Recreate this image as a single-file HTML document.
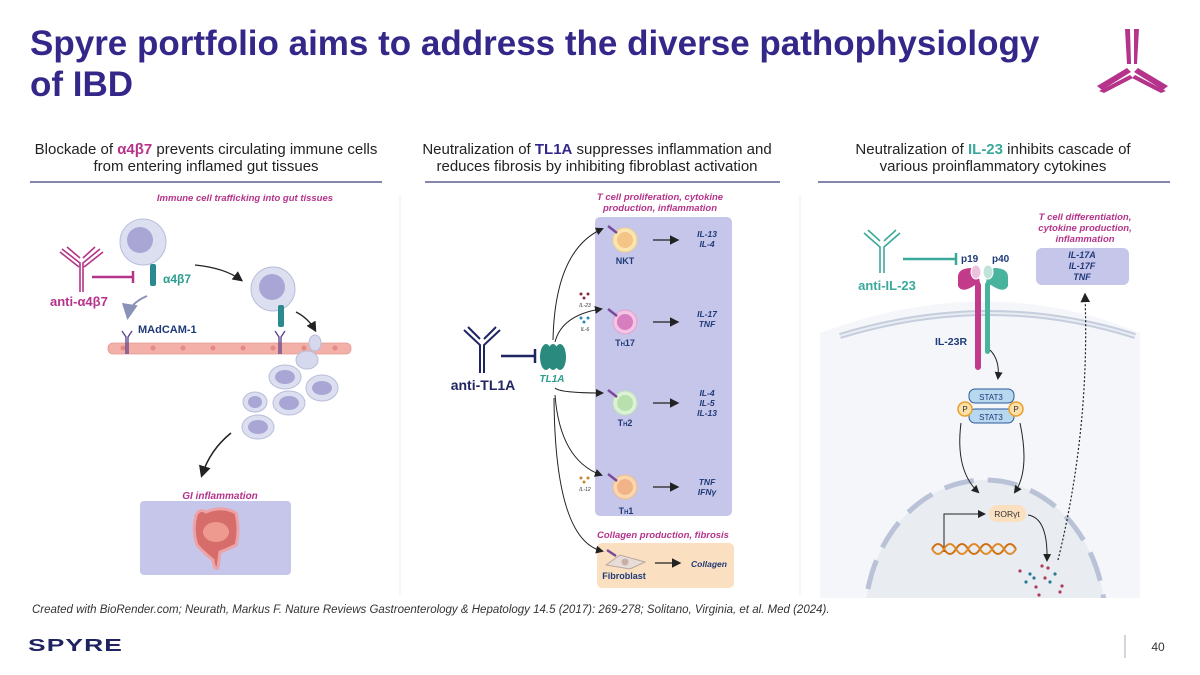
<!DOCTYPE html>
<html><head><meta charset="utf-8"><style>
html,body{margin:0;padding:0;background:#fff;overflow:hidden;width:1200px;height:675px;}
svg{display:block;font-family:"Liberation Sans",sans-serif;}
</style></head><body>
<svg width="1200" height="675" viewBox="0 0 1200 675" xmlns="http://www.w3.org/2000/svg">
<defs>
<marker id="ah" markerWidth="8" markerHeight="8" refX="6" refY="4" orient="auto"><path d="M0,0 L8,4 L0,8 z" fill="#222"/></marker>
<marker id="ahg" markerWidth="8" markerHeight="8" refX="6" refY="4" orient="auto"><path d="M0,0 L8,4 L0,8 z" fill="#8a92b8"/></marker>
<clipPath id="rc"><rect x="818" y="190" width="352" height="408"/></clipPath>
</defs>
<!-- title -->
<text x="30" y="55" font-size="35" font-weight="bold" fill="#33288a">Spyre portfolio aims to address the diverse pathophysiology</text>
<text x="30" y="96" font-size="35" font-weight="bold" fill="#33288a">of IBD</text>
<!-- logo -->
<g fill="#b5338a">
<polygon points="1125,29 1130,29 1131,64 1127,64"/><polygon points="1134,29 1139,29 1137,64 1134,64"/>
<polygon points="1127,68 1131,72 1102,90 1097,86"/><polygon points="1130,75 1133,78 1104,93 1099,91"/>
<polygon points="1138,68 1134,72 1163,90 1168,86"/><polygon points="1135,75 1132,78 1161,93 1166,91"/>
</g>
<!-- headers -->
<g font-size="15" fill="#222" text-anchor="middle">
<text x="206" y="154">Blockade of <tspan fill="#b5338a" font-weight="bold">α4β7</tspan> prevents circulating immune cells</text>
<text x="206" y="171">from entering inflamed gut tissues</text>
<text x="597" y="154">Neutralization of <tspan fill="#33288a" font-weight="bold">TL1A</tspan> suppresses inflammation and</text>
<text x="597" y="171">reduces fibrosis by inhibiting fibroblast activation</text>
<text x="993" y="154">Neutralization of <tspan fill="#3aa99a" font-weight="bold">IL-23</tspan> inhibits cascade of</text>
<text x="993" y="171">various proinflammatory cytokines</text>
</g>
<g stroke="#3b3f7a" stroke-width="1.3">
<line x1="30" y1="182" x2="382" y2="182"/><line x1="425" y1="182" x2="780" y2="182"/><line x1="818" y1="182" x2="1170" y2="182"/>
</g>
<line x1="400" y1="195" x2="400" y2="595" stroke="#eee"/><line x1="800" y1="195" x2="800" y2="595" stroke="#eee"/>

<!-- LEFT PANEL -->
<text x="245" y="201" font-size="9.5" font-weight="bold" font-style="italic" fill="#b5338a" text-anchor="middle">Immune cell trafficking into gut tissues</text>
<circle cx="143" cy="242" r="23" fill="#dcdff0" stroke="#b8bddc"/><circle cx="140" cy="240" r="13" fill="#a9a6d6"/>
<g stroke="#b5338a" stroke-width="1.6" fill="none">
<path d="M80,292 V263 L62,249 M83,292 V263 L100,249 M67,247 L80,258 M95,247 L83,258 M60,252 L79,267 M103,252 L84,267"/>
</g>
<line x1="92" y1="277" x2="133" y2="277" stroke="#b5338a" stroke-width="2.5"/><line x1="133" y1="271" x2="133" y2="283" stroke="#b5338a" stroke-width="2.5"/>
<rect x="150" y="264" width="6" height="22" rx="2" fill="#2a8a90"/>
<text x="163" y="283" font-size="12" font-weight="bold" fill="#2a9d8f">α4β7</text>
<text x="50" y="306" font-size="13" font-weight="bold" fill="#b5338a">anti-α4β7</text>
<path d="M147,296 Q130,303 128,316" stroke="#8a92b8" stroke-width="2" fill="none" marker-end="url(#ahg)"/>
<text x="138" y="333" font-size="11" font-weight="bold" fill="#1f3a78">MAdCAM-1</text>
<path d="M195,265 Q225,268 241,280" stroke="#222" stroke-width="1.3" fill="none" marker-end="url(#ah)"/>
<circle cx="273" cy="289" r="22" fill="#dcdff0" stroke="#b8bddc"/><circle cx="272" cy="287" r="13" fill="#a9a6d6"/>
<rect x="278" y="305" width="6" height="22" rx="2" fill="#2a8a90"/>
<path d="M296,312 Q308,318 315,330" stroke="#222" stroke-width="1.3" fill="none" marker-end="url(#ah)"/>
<rect x="108" y="343" width="243" height="11" rx="5" fill="#f2b0a8" stroke="#e39a92" stroke-width="0.8"/>
<g fill="#e38a84"><circle cx="123" cy="348" r="2.5"/><circle cx="153" cy="348" r="2.5"/><circle cx="183" cy="348" r="2.5"/><circle cx="213" cy="348" r="2.5"/><circle cx="243" cy="348" r="2.5"/><circle cx="273" cy="348" r="2.5"/><circle cx="304" cy="348" r="2.5"/><circle cx="335" cy="348" r="2.5"/></g>
<g stroke="#5a3d88" stroke-width="1.3" fill="none"><path d="M126,354 V337 L122,331 M128,354 V337 L132,331"/><path d="M279,354 V337 L275,331 M281,354 V337 L285,331"/></g>
<ellipse cx="315" cy="343" rx="6" ry="8" fill="#d6d9ee" stroke="#b8bddc"/>
<ellipse cx="307" cy="360" rx="11" ry="9" fill="#d6d9ee" stroke="#b8bddc"/>
<g fill="#dcdff0" stroke="#b8bddc">
<ellipse cx="285" cy="377" rx="16" ry="12"/><ellipse cx="322" cy="388" rx="16" ry="13"/>
<ellipse cx="255" cy="402" rx="12" ry="10"/><ellipse cx="289" cy="403" rx="16" ry="12"/><ellipse cx="258" cy="427" rx="16" ry="12"/>
</g>
<g fill="#a9a6d6"><ellipse cx="285" cy="377" rx="10" ry="7"/><ellipse cx="322" cy="388" rx="10" ry="7"/><ellipse cx="255" cy="402" rx="7" ry="6"/><ellipse cx="289" cy="403" rx="10" ry="7"/><ellipse cx="258" cy="427" rx="10" ry="7"/></g>
<path d="M231,433 Q210,450 202,475" stroke="#222" stroke-width="1.5" fill="none" marker-end="url(#ah)"/>
<text x="220" y="499" font-size="10" font-weight="bold" font-style="italic" fill="#b5338a" text-anchor="middle">GI inflammation</text>
<rect x="140" y="501" width="151" height="74" rx="4" fill="#c6c6ea"/>
<path d="M196,515 Q200,508 206,512 Q222,505 236,513 Q240,530 236,545 Q226,550 220,552 L218,568 Q214,570 213,560 Q203,552 197,545 Q192,530 196,515 Z" fill="#d9645e" stroke="#f0a0a0" stroke-width="3" opacity="0.9"/>
<ellipse cx="216" cy="532" rx="13" ry="10" fill="#ee9a8e"/>

<!-- MIDDLE PANEL -->
<text x="660" y="200" font-size="9.5" font-weight="bold" font-style="italic" fill="#b5338a" text-anchor="middle">T cell proliferation, cytokine</text>
<text x="660" y="211" font-size="9.5" font-weight="bold" font-style="italic" fill="#b5338a" text-anchor="middle">production, inflammation</text>
<rect x="595" y="217" width="137" height="299" rx="5" fill="#c6c6ea"/>
<rect x="597" y="543" width="137" height="45" rx="5" fill="#fae0c0"/>
<text x="663" y="538" font-size="9.5" font-weight="bold" font-style="italic" fill="#b5338a" text-anchor="middle">Collagen production, fibrosis</text>
<g stroke="#1f2560" stroke-width="2" fill="none">
<path d="M480,373 V345 L464,330 M484,373 V345 L500,330 M468,327 L480,339 M496,327 L484,339"/>
</g>
<line x1="501" y1="356" x2="534" y2="356" stroke="#1f2560" stroke-width="2.5"/><line x1="535" y1="349" x2="535" y2="363" stroke="#1f2560" stroke-width="2.5"/>
<text x="483" y="390" font-size="14" font-weight="bold" fill="#1f2560" text-anchor="middle">anti-TL1A</text>
<g fill="#2a8a7e"><ellipse cx="546" cy="357" rx="6" ry="13"/><ellipse cx="553" cy="357" rx="6" ry="13"/><ellipse cx="560" cy="357" rx="6" ry="13"/></g>
<text x="552" y="382" font-size="10" font-weight="bold" font-style="italic" fill="#2a9d8f" text-anchor="middle">TL1A</text>
<g stroke="#222" stroke-width="1" fill="none">
<path d="M553,340 Q555,250 602,229" marker-end="url(#ah)"/>
<path d="M555,342 Q562,315 601,309" marker-end="url(#ah)"/>
<path d="M555,388 Q560,393 602,393" marker-end="url(#ah)"/>
<path d="M555,395 Q560,460 601,475" marker-end="url(#ah)"/>
<path d="M554,398 Q555,540 602,551" marker-end="url(#ah)"/>
</g>
<g stroke="#222" stroke-width="1.2">
<line x1="653" y1="240" x2="677" y2="240" marker-end="url(#ah)"/><line x1="653" y1="322" x2="677" y2="322" marker-end="url(#ah)"/>
<line x1="653" y1="403" x2="677" y2="403" marker-end="url(#ah)"/><line x1="653" y1="487" x2="677" y2="487" marker-end="url(#ah)"/>
<line x1="655" y1="563" x2="679" y2="563" marker-end="url(#ah)"/>
</g>
<circle cx="625" cy="240" r="12" fill="#fbe6b0" stroke="#f0d28a"/><circle cx="625" cy="240" r="8" fill="#f5c487"/>
<circle cx="625" cy="322" r="12" fill="#f4c4e4" stroke="#e2a0d2"/><circle cx="625" cy="322" r="8" fill="#d77ec0"/>
<circle cx="625" cy="403" r="12" fill="#dcf2d6" stroke="#bfe0b6"/><circle cx="625" cy="403" r="8" fill="#b8e0ad"/>
<circle cx="625" cy="487" r="12" fill="#fbd7b0" stroke="#f0bc8a"/><circle cx="625" cy="487" r="8" fill="#f2b486"/>
<g stroke="#7a4a9a" stroke-width="2.5"><line x1="608" y1="226" x2="617" y2="233"/><line x1="608" y1="309" x2="617" y2="316"/><line x1="608" y1="390" x2="617" y2="397"/><line x1="608" y1="474" x2="617" y2="481"/><line x1="607" y1="550" x2="616" y2="556"/></g>
<path d="M606,565 L620,555 L645,562 L630,569 Z" fill="#e8dcd6" stroke="#b8a8a0"/><circle cx="625" cy="562" r="3.5" fill="#c8b0a8"/>
<g font-size="9" font-weight="bold" text-anchor="middle" fill="#1f3a78"><text x="625" y="264">NKT</text><text x="625" y="346">T<tspan font-size="6">H</tspan>17</text><text x="625" y="426">T<tspan font-size="6">H</tspan>2</text><text x="626" y="514">T<tspan font-size="6">H</tspan>1</text><text x="624" y="579">Fibroblast</text></g>
<g font-size="8.5" font-weight="bold" font-style="italic" fill="#1f3a78" text-anchor="middle">
<text x="707" y="237">IL-13</text><text x="707" y="247">IL-4</text>
<text x="707" y="317">IL-17</text><text x="707" y="327">TNF</text>
<text x="707" y="396">IL-4</text><text x="707" y="406">IL-5</text><text x="707" y="416">IL-13</text>
<text x="707" y="485">TNF</text><text x="707" y="495">IFNγ</text>
<text x="709" y="567">Collagen</text>
</g>
<g font-size="5" font-style="italic" fill="#333" text-anchor="middle"><text x="585" y="307">IL-23</text><text x="585" y="331">IL-6</text><text x="585" y="491">IL-12</text></g>
<g fill="#8a2a3a"><circle cx="581" cy="294" r="1.5"/><circle cx="588" cy="294" r="1.5"/><circle cx="584" cy="298" r="1.5"/></g>
<g fill="#2a8ab0"><circle cx="581" cy="318" r="1.5"/><circle cx="588" cy="318" r="1.5"/><circle cx="584" cy="322" r="1.5"/></g>
<g fill="#c08a30"><circle cx="581" cy="478" r="1.5"/><circle cx="588" cy="478" r="1.5"/><circle cx="584" cy="482" r="1.5"/></g>

<!-- RIGHT PANEL -->
<g clip-path="url(#rc)">
<path d="M820,333 Q990,270 1140,333 L1140,600 L820,600 Z" fill="#f4f6fa"/>
<path d="M840,336 Q990,290 1135,336" stroke="#c6cedd" stroke-width="6" fill="none"/>
<path d="M840,336 Q990,290 1135,336" stroke="#e8ecf3" stroke-width="2" fill="none"/>
<ellipse cx="985" cy="620" rx="120" ry="140" fill="#e9edf2"/>
<ellipse cx="985" cy="620" rx="120" ry="140" fill="none" stroke="#b9c2d6" stroke-width="5" stroke-dasharray="30 14"/>
</g>
<text x="1085" y="220" font-size="9.5" font-weight="bold" font-style="italic" fill="#b5338a" text-anchor="middle">T cell differentiation,</text>
<text x="1085" y="231" font-size="9.5" font-weight="bold" font-style="italic" fill="#b5338a" text-anchor="middle">cytokine production,</text>
<text x="1085" y="242" font-size="9.5" font-weight="bold" font-style="italic" fill="#b5338a" text-anchor="middle">inflammation</text>
<rect x="1036" y="248" width="93" height="37" rx="6" fill="#c6c6ea"/>
<g font-size="9" font-weight="bold" font-style="italic" fill="#1f3a78" text-anchor="middle"><text x="1082" y="258">IL-17A</text><text x="1082" y="269">IL-17F</text><text x="1082" y="280">TNF</text></g>
<g stroke="#3aa99a" stroke-width="1.6" fill="none">
<path d="M880,273 V247 L864,233 M884,273 V247 L900,233 M868,230 L880,241 M896,230 L884,241"/>
</g>
<line x1="903" y1="259" x2="955" y2="259" stroke="#3aa99a" stroke-width="2.5"/><line x1="956" y1="253" x2="956" y2="265" stroke="#3aa99a" stroke-width="2.5"/>
<text x="887" y="290" font-size="13" font-weight="bold" fill="#3aa99a" text-anchor="middle">anti-IL-23</text>
<text x="961" y="262" font-size="10" font-weight="bold" fill="#1f3a78">p19</text><text x="992" y="262" font-size="10" font-weight="bold" fill="#1f3a78">p40</text>
<path d="M958,277 Q958,268 972,268 Q980,274 980,285 L975,285 Q962,294 958,286 Z" fill="#c23a8a"/>
<path d="M1008,277 Q1008,268 994,268 Q986,274 986,285 L991,285 Q1004,294 1008,286 Z" fill="#4ab39e"/>
<rect x="975" y="282" width="6" height="88" rx="3" fill="#c23a8a"/><rect x="985" y="282" width="5" height="72" rx="2.5" fill="#4ab39e"/>
<ellipse cx="976" cy="272" rx="5" ry="7" fill="#ecc2de" stroke="#fff"/><ellipse cx="988" cy="272" rx="5" ry="7" fill="#bfe3d8" stroke="#fff"/>
<text x="951" y="345" font-size="10.5" font-weight="bold" fill="#1f3a78" text-anchor="middle">IL-23R</text>
<path d="M990,350 Q1000,360 998,378" stroke="#222" stroke-width="1" fill="none" marker-end="url(#ah)"/>
<rect x="969" y="389" width="45" height="14" rx="6" fill="#b8d8f0" stroke="#2a5a98"/>
<rect x="969" y="409" width="45" height="14" rx="6" fill="#b8d8f0" stroke="#2a5a98"/>
<text x="991" y="400" font-size="8" fill="#1f3a78" text-anchor="middle">STAT3</text><text x="991" y="420" font-size="8" fill="#1f3a78" text-anchor="middle">STAT3</text>
<circle cx="965" cy="409" r="7" fill="#fbe0a8" stroke="#e8a030" stroke-width="1.5"/><circle cx="1016" cy="409" r="7" fill="#fbe0a8" stroke="#e8a030" stroke-width="1.5"/>
<text x="965" y="412" font-size="8" fill="#333" text-anchor="middle">P</text><text x="1016" y="412" font-size="8" fill="#333" text-anchor="middle">P</text>
<g stroke="#222" stroke-width="1" fill="none">
<path d="M961,423 Q955,470 978,492" marker-end="url(#ah)"/>
<path d="M1020,423 Q1030,470 1015,492" marker-end="url(#ah)"/>
<path d="M944,552 V514 L984,514" marker-end="url(#ah)"/>
<path d="M1028,515 Q1048,518 1047,560" marker-end="url(#ah)"/>
</g>
<path d="M1058,560 Q1090,430 1085,295" stroke="#222" stroke-width="1.2" stroke-dasharray="2 2" fill="none" marker-end="url(#ah)"/>
<rect x="989" y="505" width="37" height="17" rx="8" fill="#fbe0c0"/>
<text x="1007" y="517" font-size="8.5" fill="#333" text-anchor="middle">RORγt</text>
<path d="M932,549 q6,-10 12,0 t12,0 t12,0 t12,0 t12,0 t12,0 t12,0" stroke="#d07010" stroke-width="2" fill="none"/>
<path d="M932,549 q6,10 12,0 t12,0 t12,0 t12,0 t12,0 t12,0 t12,0" stroke="#e08a2a" stroke-width="2" fill="none"/>
<g fill="#b03a5a"><circle cx="1020" cy="571" r="1.6"/><circle cx="1042" cy="566" r="1.6"/><circle cx="1048" cy="568" r="1.6"/><circle cx="1045" cy="578" r="1.6"/><circle cx="1036" cy="587" r="1.6"/><circle cx="1062" cy="586" r="1.6"/><circle cx="1039" cy="595" r="1.6"/><circle cx="1060" cy="592" r="1.6"/></g>
<g fill="#2a7a98"><circle cx="1030" cy="574" r="1.6"/><circle cx="1034" cy="578" r="1.6"/><circle cx="1026" cy="582" r="1.6"/><circle cx="1055" cy="574" r="1.6"/><circle cx="1050" cy="582" r="1.6"/></g>

<!-- footer -->
<text x="32" y="613" font-size="11.5" font-style="italic" fill="#333">Created with BioRender.com; Neurath, Markus F. Nature Reviews Gastroenterology &amp; Hepatology 14.5 (2017): 269-278; Solitano, Virginia, et al. Med (2024).</text>
<g transform="translate(28,651) scale(1.1,0.72)"><text x="0" y="0" font-size="24" font-weight="bold" fill="#1f2360" letter-spacing="1">SPYRE</text></g>
<line x1="1125" y1="635" x2="1125" y2="658" stroke="#aab"/>
<text x="1158" y="651" font-size="12" fill="#333" text-anchor="middle">40</text>
</svg>
</body></html>
